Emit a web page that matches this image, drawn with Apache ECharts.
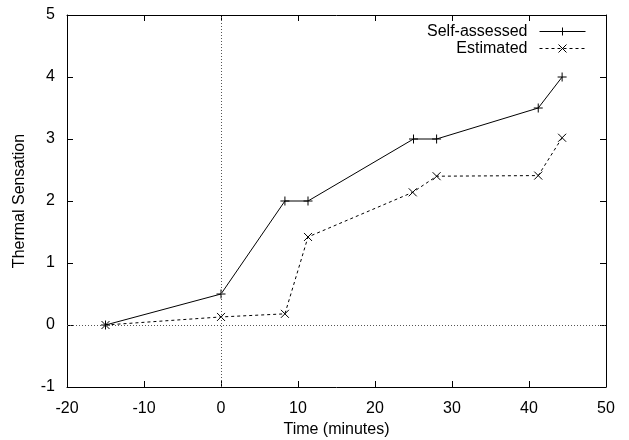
<!DOCTYPE html>
<html><head><meta charset="utf-8">
<script src="https://cdn.jsdelivr.net/npm/echarts@6/dist/echarts.min.js"></script>
<style>html,body{margin:0;padding:0;background:#fff}#c{width:629px;height:440px}</style>
</head><body><div id="c"></div>
<script>
const selfTime = [-15, 0, 8.3, 11.3, 25, 28, 41.2, 44.3];
const selfValues = [0, 0.5, 2, 2, 3, 3, 3.5, 4];
const estTime = [-15, 0, 8.3, 11.3, 24.9, 28, 41.2, 44.3];
const estValues = [0, 0.13, 0.18, 1.42, 2.14, 2.4, 2.41, 3.02];
const xTicks = [-20, -10, 0, 10, 20, 30, 40, 50];
const yTicks = [-1, 0, 1, 2, 3, 4, 5];

const font = 'Liberation Sans, Arial, sans-serif';
const FS = 16;
const plus = 'path://M0,-5L0,5M-5,0L5,0';
const cross = 'path://M-5,-5L5,5M-5,5L5,-5';
const pair = (xs, ys) => xs.map((x, i) => [x, ys[i]]);

const xBase = {type:'value', min:xTicks[0], max:xTicks[xTicks.length-1], interval:10,
  splitLine:{show:false}, axisLine:{show:true, onZero:false, lineStyle:{color:'#000', width:1}},
  axisTick:{show:true, inside:true, length:6, lineStyle:{color:'#000'}}};
const yBase = {type:'value', min:yTicks[0], max:yTicks[yTicks.length-1], interval:1,
  splitLine:{show:false}, axisLine:{show:true, onZero:false, lineStyle:{color:'#000', width:1}},
  axisTick:{show:true, inside:true, length:6, lineStyle:{color:'#000'}}};

const chart = echarts.init(document.getElementById('c'));
chart.setOption({
  animation:false,
  backgroundColor:'#fff',
  textStyle:{fontFamily:font},
  grid:{left:67, right:23, top:15, bottom:53, containLabel:false, outerBoundsMode:'none'},
  legend:{
    orient:'vertical', right:38, top:18, align:'right', itemGap:0,
    itemWidth:46, itemHeight:10,
    lineStyle:{width:1},
    itemStyle:{borderWidth:1, color:'none'},
    textStyle:{fontFamily:font, fontSize:FS, color:'#000', lineHeight:17, padding:[0,7,0,0]},
    data:['Self-assessed','Estimated']
  },
  xAxis:[
    Object.assign({}, xBase, {position:'bottom', name:'Time (minutes)', nameLocation:'middle', nameGap:33,
      nameTextStyle:{fontFamily:font, fontSize:FS, color:'#000'},
      axisLabel:{color:'#000', fontSize:FS, fontFamily:font, margin:14}}),
    Object.assign({}, xBase, {position:'top', axisLabel:{show:false}})
  ],
  yAxis:[
    Object.assign({}, yBase, {position:'left', name:'Thermal Sensation', nameLocation:'middle', nameGap:39,
      nameTextStyle:{fontFamily:font, fontSize:FS, color:'#000'},
      axisLabel:{color:'#000', fontSize:FS, fontFamily:font, margin:12}}),
    Object.assign({}, yBase, {position:'right', axisLabel:{show:false}})
  ],
  series:[
    {name:'Self-assessed', type:'line', data:pair(selfTime, selfValues),
     symbol:plus, symbolSize:9, showSymbol:true,
     lineStyle:{color:'#000', width:1},
     itemStyle:{color:'none', borderColor:'#000', borderWidth:1},
     markLine:{silent:true, symbol:'none', label:{show:false},
       lineStyle:{color:'#555', type:[1,2], width:1},
       data:[{xAxis:0}, {yAxis:0}]},
     z:3},
    {name:'Estimated', type:'line', data:pair(estTime, estValues),
     symbol:cross, symbolSize:8, showSymbol:true,
     lineStyle:{color:'#000', width:1, type:[3,3]},
     itemStyle:{color:'none', borderColor:'#000', borderWidth:1},
     z:3}
  ]
});
</script></body></html>
